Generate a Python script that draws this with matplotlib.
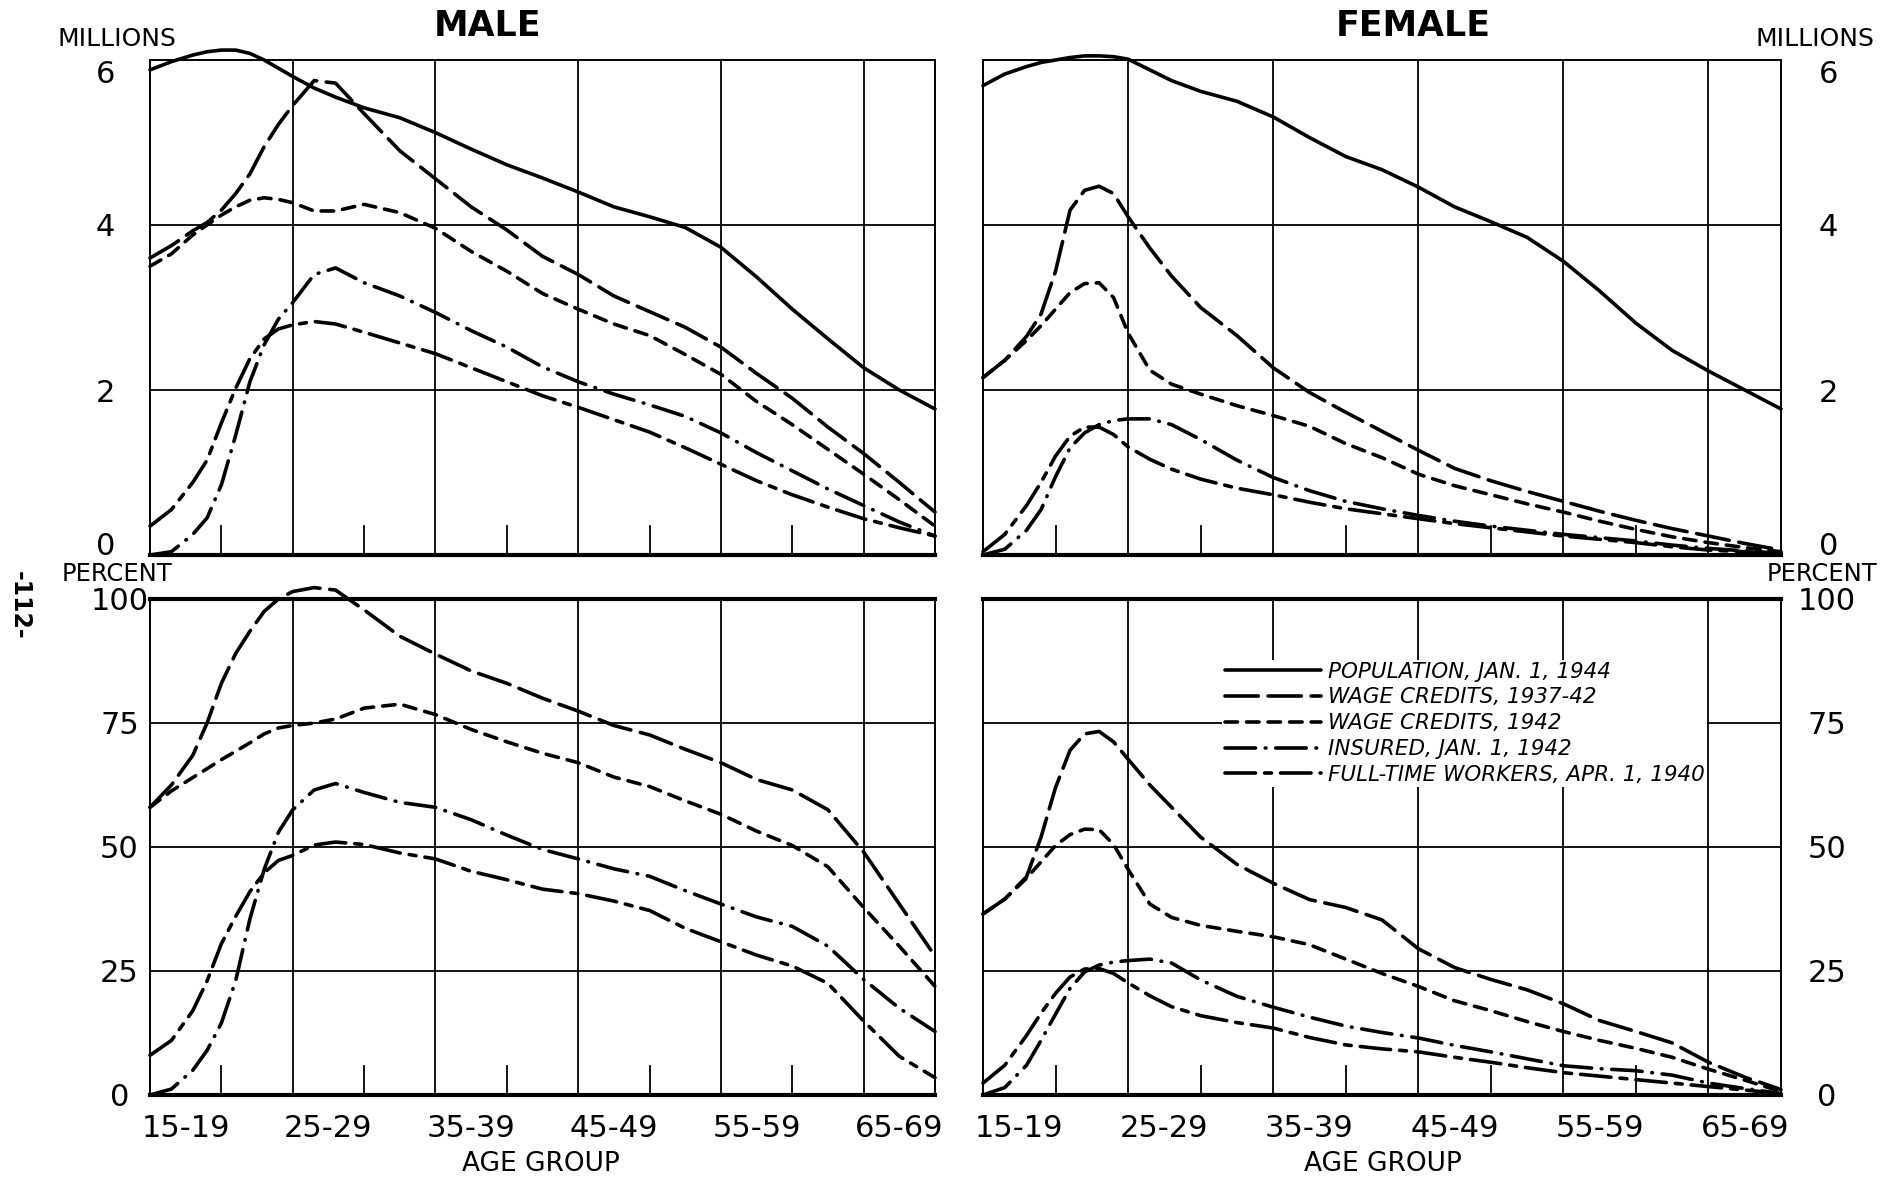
import numpy as np
import matplotlib.pyplot as plt

plt.rcParams['lines.scale_dashes'] = False
NARROW = ['Liberation Sans Narrow', 'DejaVu Sans']

# ages at which the curves were read (years)
ages = [15, 16.5, 18, 19, 20, 21, 22, 23, 24, 25, 26.5, 28, 30, 32.5, 35, 37.5, 40,
        42.5, 45, 47.5, 50, 52.5, 55, 57.5, 60, 62.5, 65, 67.5, 70]

# MALE, millions
male_pop_m = [5.88, 5.98, 6.06, 6.10, 6.12, 6.12, 6.08, 6.00, 5.90, 5.80, 5.66, 5.55, 5.42, 5.30,
              5.12, 4.92, 4.73, 4.57, 4.40, 4.22, 4.10, 3.97, 3.73, 3.37, 2.98, 2.62, 2.27, 2.00, 1.77]
male_wc3742_m = [3.60, 3.75, 3.93, 4.03, 4.18, 4.38, 4.62, 4.95, 5.22, 5.45, 5.75, 5.72, 5.35, 4.90,
                 4.56, 4.22, 3.94, 3.62, 3.40, 3.14, 2.95, 2.76, 2.52, 2.20, 1.90, 1.55, 1.23, 0.88, 0.52]
male_wc42_m = [3.50, 3.65, 3.88, 4.00, 4.12, 4.22, 4.30, 4.33, 4.31, 4.27, 4.17, 4.17, 4.25, 4.15,
               3.96, 3.68, 3.44, 3.17, 2.98, 2.80, 2.66, 2.43, 2.19, 1.86, 1.58, 1.28, 0.98, 0.67, 0.35]
male_ins_m = [0.00, 0.04, 0.25, 0.45, 0.85, 1.45, 2.10, 2.55, 2.86, 3.06, 3.40, 3.48, 3.30, 3.14,
              2.94, 2.72, 2.52, 2.28, 2.10, 1.95, 1.82, 1.68, 1.48, 1.24, 1.02, 0.80, 0.60, 0.40, 0.23]
male_ft_m = [0.35, 0.55, 0.88, 1.15, 1.60, 2.02, 2.38, 2.62, 2.74, 2.79, 2.83, 2.80, 2.70, 2.57,
             2.44, 2.27, 2.10, 1.93, 1.79, 1.64, 1.49, 1.30, 1.10, 0.90, 0.73, 0.58, 0.44, 0.33, 0.23]

# FEMALE, millions
female_pop_m = [5.69, 5.83, 5.92, 5.97, 6.00, 6.03, 6.05, 6.05, 6.04, 6.01, 5.88, 5.75, 5.62, 5.50,
                5.31, 5.06, 4.83, 4.67, 4.46, 4.22, 4.04, 3.85, 3.56, 3.20, 2.81, 2.48, 2.23, 2.00, 1.77]
female_wc3742_m = [2.15, 2.36, 2.65, 2.92, 3.44, 4.18, 4.42, 4.47, 4.38, 4.10, 3.72, 3.38, 3.00, 2.66,
                   2.27, 1.97, 1.73, 1.50, 1.27, 1.05, 0.90, 0.77, 0.65, 0.53, 0.42, 0.32, 0.23, 0.14, 0.06]
female_wc42_m = [2.15, 2.36, 2.60, 2.78, 2.98, 3.18, 3.29, 3.30, 3.12, 2.69, 2.24, 2.07, 1.95, 1.81,
                 1.69, 1.56, 1.35, 1.18, 0.98, 0.84, 0.73, 0.62, 0.52, 0.41, 0.31, 0.22, 0.15, 0.09, 0.04]
female_ins_m = [0.00, 0.07, 0.30, 0.55, 0.95, 1.30, 1.48, 1.58, 1.63, 1.65, 1.65, 1.58, 1.40, 1.15,
                0.94, 0.78, 0.65, 0.56, 0.48, 0.41, 0.35, 0.30, 0.25, 0.21, 0.17, 0.12, 0.08, 0.05, 0.02]
female_ft_m = [0.04, 0.25, 0.60, 0.88, 1.20, 1.44, 1.55, 1.55, 1.46, 1.31, 1.16, 1.04, 0.92, 0.81,
               0.73, 0.64, 0.56, 0.50, 0.44, 0.38, 0.33, 0.28, 0.23, 0.19, 0.15, 0.10, 0.06, 0.04, 0.02]

# MALE, percent
male_wc3742_pct = [58, 62.5, 68.5, 75, 83, 89, 93.5, 97.5, 100, 101.5, 102.3, 101.8, 97.8, 92.5,
                   88.9, 85.5, 83, 80, 77.4, 74.5, 72.6, 69.7, 67, 63.6, 61.5, 57.5, 49, 38.5, 28]
male_wc42_pct = [58, 61.3, 64, 65.8, 67.6, 69.3, 71, 72.8, 74, 74.5, 75, 75.8, 78, 78.8,
                 76.7, 73.7, 71.2, 68.9, 67, 64.1, 62.2, 59.3, 56.6, 53.2, 50.3, 46, 37.8, 30, 21.9]
male_ins_pct = [0, 1.2, 5, 9, 14.5, 23, 35.5, 45.5, 53, 57.5, 61.5, 62.8, 61, 59,
                58, 55.5, 52.4, 49.5, 47.6, 45.6, 44.1, 41.2, 38.5, 35.9, 34, 30, 23.3, 17.5, 12.8]
male_ft_pct = [8, 11, 17, 23, 30.5, 36, 41, 44.8, 47.3, 48.3, 50.4, 51, 50.5, 48.8,
               47.6, 45.1, 43.4, 41.5, 40.6, 39.1, 37.2, 33.6, 30.9, 28.2, 26, 22.5, 14.9, 7.8, 3.5]

# FEMALE, percent
female_wc3742_pct = [36.5, 39.5, 44, 52, 62, 69.5, 72.8, 73.3, 71.2, 67.7, 62.5, 58, 52, 46.5,
                     42.7, 39.4, 37.8, 35.3, 29.5, 25.7, 23.3, 21.2, 18.4, 15, 12.8, 10.5, 6.6, 3.6, 1.1]
female_wc42_pct = [36.5, 39.5, 43.7, 47, 50.3, 52.5, 53.6, 53.5, 50.5, 45.5, 38.5, 35.8, 34.2, 33,
                   31.9, 30.3, 27.4, 24.5, 21.9, 19, 17, 14.8, 12.8, 11, 9.4, 7.6, 5.2, 3, 0.7]
female_ins_pct = [0, 1.5, 6, 11, 16.3, 21.5, 24.8, 26.2, 26.8, 27.1, 27.4, 26.6, 23.2, 19.9,
                  17.7, 15.7, 13.9, 12.6, 11.5, 10, 8.7, 7.3, 5.9, 5.3, 4.9, 4, 2.4, 1.3, 0.3]
female_ft_pct = [2.4, 6, 12, 16.5, 20.5, 23.8, 25.4, 25.5, 24.5, 22.6, 20, 17.8, 16, 14.6,
                 13.5, 11.6, 10.1, 9.3, 8.7, 7.6, 6.6, 5.5, 4.5, 3.8, 3.1, 2.4, 1.7, 1, 0.3]

labels = ['POPULATION, JAN. 1, 1944', 'WAGE CREDITS, 1937-42', 'WAGE CREDITS, 1942',
          'INSURED, JAN. 1, 1942', 'FULL-TIME WORKERS, APR. 1, 1940']
styles = ['-', (0, (24, 7)), (0, (9, 6.5)), (0, (22, 7, 0.5, 7)), (0, (22, 6.5, 5, 6.5))]

age_ticks = [17.5, 27.5, 37.5, 47.5, 57.5, 67.5]
age_labels = ['15-19', '25-29', '35-39', '45-49', '55-59', '65-69']

W, H = 1885, 1181
fig = plt.figure(figsize=(W / 100, H / 100), dpi=100)


def box(l, t, r, b):
    return [l / W, 1 - b / H, (r - l) / W, (b - t) / H]


def panel(ax, series, ticks, side, bottom_row):
    ax.set_xlim(15, 70)
    ax.set_ylim(ticks[0], ticks[-1])
    for x in [25, 35, 45, 55, 65]:
        ax.axvline(x, color='black', lw=1.3, zorder=1)
    for x in [20, 30, 40, 50, 60]:
        ax.axvline(x, ymax=0.058, color='black', lw=1.3, zorder=1)
    for y in ticks[1:-1]:
        ax.axhline(y, color='black', lw=1.3, zorder=1)
    for vals, ls, lab in zip(series, styles, labels):
        ax.plot(ages, vals, color='black', lw=2.6, linestyle=ls, label=lab,
                clip_on=False, zorder=3, solid_capstyle='round', dash_capstyle='round')
    for s in ax.spines.values():
        s.set_color('black')
        s.set_linewidth(1.4)
    ax.spines['bottom'].set_linewidth(3)
    if bottom_row:
        ax.spines['top'].set_linewidth(3)
        ax.set_xticks(age_ticks)
        ax.set_xticklabels(age_labels, family=NARROW, fontsize=22)
        ax.tick_params(axis='x', length=0, pad=14)
    else:
        ax.set_xticks([])
    ax.set_yticks(ticks)
    ax.set_yticklabels([str(t) for t in ticks], family=NARROW, fontsize=22)
    if side == 'right':
        ax.yaxis.tick_right()
    pad = 32 if not bottom_row else 22
    if side == 'right':
        pad = 34 if not bottom_row else 33
    ax.tick_params(axis='y', length=0, pad=pad)
    tl = ax.get_yticklabels()
    plt.setp(tl, ha='center')
    if not bottom_row:
        tl[0].set_va('baseline')
        tl[-1].set_va('top')


ax_tl = fig.add_axes(box(150, 60, 935, 555))
ax_tr = fig.add_axes(box(983, 60, 1781, 555))
ax_bl = fig.add_axes(box(150, 599, 935, 1095))
ax_br = fig.add_axes(box(983, 599, 1781, 1095))

panel(ax_tl, [male_pop_m, male_wc3742_m, male_wc42_m, male_ins_m, male_ft_m],
      [0, 2, 4, 6], 'left', False)
panel(ax_tr, [female_pop_m, female_wc3742_m, female_wc42_m, female_ins_m, female_ft_m],
      [0, 2, 4, 6], 'right', False)
panel(ax_bl, [[np.nan] * len(ages), male_wc3742_pct, male_wc42_pct, male_ins_pct, male_ft_pct],
      [0, 25, 50, 75, 100], 'left', True)
panel(ax_br, [[np.nan] * len(ages), female_wc3742_pct, female_wc42_pct, female_ins_pct, female_ft_pct],
      [0, 25, 50, 75, 100], 'right', True)

# legend uses the lines from the top panel for its handles
handles = ax_tr.get_lines()[-5:]
leg = ax_br.legend(handles, labels, loc='upper left', bbox_to_anchor=(0.300, 0.878),
                   frameon=True, borderpad=0.1, borderaxespad=0, handlelength=4.5,
                   handletextpad=0.3, labelspacing=0.27,
                   prop={'style': 'italic', 'size': 15.5})
leg.get_frame().set_facecolor('white')
leg.get_frame().set_edgecolor('none')
leg.get_frame().set_alpha(1)
leg.set_zorder(5)

fig.text(487 / W, 1 - 26 / H, 'MALE', ha='center', va='center', fontsize=25, fontweight='bold')
fig.text(1413 / W, 1 - 26 / H, 'FEMALE', ha='center', va='center', fontsize=25, fontweight='bold')
fig.text(117 / W, 1 - 39 / H, 'MILLIONS', ha='center', va='center', fontsize=18)
fig.text(1815 / W, 1 - 39 / H, 'MILLIONS', ha='center', va='center', fontsize=18)
fig.text(117 / W, 1 - 574 / H, 'PERCENT', ha='center', va='center', fontsize=17.5)
fig.text(1822 / W, 1 - 574 / H, 'PERCENT', ha='center', va='center', fontsize=17.5)
fig.text(541 / W, 1 - 1164 / H, 'AGE GROUP', ha='center', va='center', fontsize=19)
fig.text(1383 / W, 1 - 1164 / H, 'AGE GROUP', ha='center', va='center', fontsize=19)
fig.text(20 / W, 1 - 605 / H, '-112-', ha='center', va='center', fontsize=17,
         fontweight='bold', rotation=270)

fig.savefig('out.png', dpi=100, facecolor='white')
